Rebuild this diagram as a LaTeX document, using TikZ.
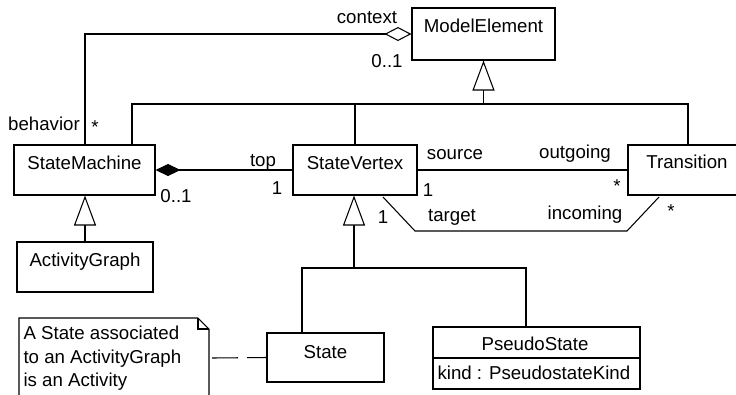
\documentclass[tikz,border=0pt]{standalone}
\usepackage{fontspec}
\setmainfont{Liberation Sans}
\usetikzlibrary{arrows.meta}
\begin{document}
\begin{tikzpicture}[x=0.75pt,y=-0.75pt,line width=0.8pt,
  box/.style={draw,inner sep=0pt,fill=none},
  lab/.style={inner sep=0pt,font=\fontsize{14}{16}\selectfont,text height=9.5pt,text depth=0pt},
  gen/.style={-{Triangle[open,length=22.5pt,width=16.5pt,fill=white]}},
  agg/.style={-{Diamond[open,length=20.25pt,width=10.5pt,fill=white]}},
  comp/.style={{Diamond[length=18.75pt,width=9pt]}-}]
\useasboundingbox (0,0) rectangle (736,394);
% boxes
\node[box,minimum width=107.25pt,minimum height=39pt] (me) at (483.5,34) {};
\node[box,minimum width=105.75pt,minimum height=37.5pt] (sm) at (84.5,170) {};
\node[box,minimum width=93pt,minimum height=37.5pt] (sv) at (355,170) {};
\node[box,minimum width=90pt,minimum height=37.5pt] (tr) at (688,170) {};
\node[box,minimum width=102pt,minimum height=37.5pt] (ag) at (85,267) {};
\node[box,minimum width=87.75pt,minimum height=36.75pt] (st) at (325.5,357.5) {};
\node[box,minimum width=155.25pt,minimum height=46.5pt] (ps) at (536.5,358) {};
\draw (ps.west) -- (ps.east);
% box texts
\node[lab] (tme) at (483.5,26) {ModelElement};
\node[lab] (tsm) at (84.5,163) {StateMachine};
\node[lab] (tsv) at (355,163) {StateVertex};
\node[lab] (ttr) at (687,162) {Transition};
\node[lab] (tag) at (85,260) {ActivityGraph};
\node[lab] (tst) at (325.5,352) {State};
\node[lab] (tps) at (535,344) {PseudoState};
\node[lab,anchor=west] (tpk) at (437,373) {kind : PseudostateKind};
% note
\draw (209,400) -- (209,329) -- (198,318) -- (19,318) -- (19,400);
\draw (198,318) -- (198,329) -- (209,329);
\node[lab,anchor=west] (n1) at (23,333) {A State associated};
\node[lab,anchor=west] (n2) at (23,357) {to an ActivityGraph};
\node[lab,anchor=west] (n3) at (23,380) {is an Activity};
\coordinate (noteE) at (212,358);
\draw[dash pattern=on 19.5pt off 6.75pt] (noteE) -- (st.west);
% generalization to ModelElement
\coordinate (j1) at (483.5,104);
\coordinate (j1a) at (132,104);
\coordinate (j1c) at (688,104);
\draw[gen] (j1) -- (me.south);
\draw (sm.north -| j1a) -- (j1a) -- (j1c) -- (tr.north);
\draw (sv.north) -- (sv.north |- j1);
% context aggregation
\coordinate (cx) at (85,104);
\draw[agg] (sm.north -| cx) |- (me.west);
\node[lab] (lctx) at (367,17) {context};
\node[lab] (lme01) at (387,61) {0..1};
\node[lab] (lbeh) at (44,124) {behavior};
\node[lab] (lbst) at (95,127) {*};
% composition
\draw[comp] (sm.east) -- (sv.west);
\node[lab] (ltop) at (263,160) {top};
\node[lab] (lone1) at (277,188) {1};
\node[lab] (lsm01) at (176,196) {0..1};
% source/outgoing
\draw (sv.east) -- (tr.west);
\node[lab] (lsrc) at (455,153) {source};
\node[lab] (lout) at (575,152) {outgoing};
\node[lab] (lone2) at (428,190) {1};
\node[lab] (lst2) at (617,186) {*};
% target/incoming
\coordinate (t1) at (383,197);
\coordinate (t2) at (415,231);
\coordinate (t3) at (627,231);
\coordinate (t4) at (659,197);
\draw (t1) -- (t2) -- (t3) -- (t4);
\node[lab] (ltgt) at (452,215) {target};
\node[lab] (linc) at (585,213) {incoming};
\node[lab] (lone3) at (383,217) {1};
\node[lab] (lst3) at (671,211) {*};
% generalization to StateVertex
\coordinate (j2) at (354,268);
\coordinate (j2a) at (302,268);
\coordinate (j2b) at (526,268);
\draw[gen] (j2) -- (j2 |- sv.south);
\draw (st.north -| j2a) -- (j2a) -- (j2b) -- (j2b |- ps.north);
% generalization to StateMachine
\draw[gen] (ag.north) -- (ag.north |- sm.south);
\end{tikzpicture}
\end{document}
